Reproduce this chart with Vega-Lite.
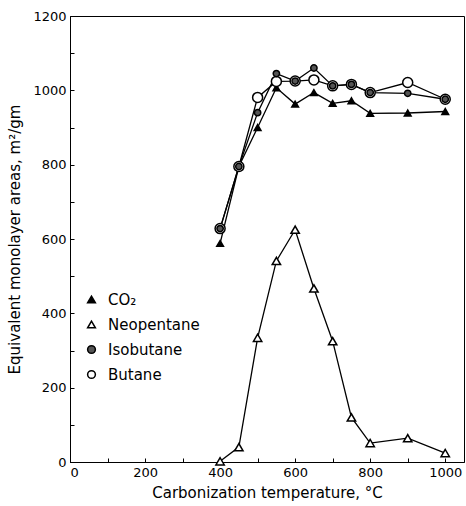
{
  "$schema": "https://vega.github.io/schema/vega-lite/v6.json",
  "autosize": {"type": "none"},
  "padding": {"left": 70, "top": 16, "right": 2, "bottom": 44},
  "width": 394,
  "height": 446,
  "background": "white",
  "config": {
    "view": {"stroke": "black", "strokeWidth": 1},
    "font": "DejaVu Sans",
    "axis": {
      "grid": false,
      "domainColor": "black",
      "tickColor": "black",
      "labelColor": "black",
      "titleColor": "black",
      "labelFont": "DejaVu Sans",
      "titleFont": "DejaVu Sans",
      "labelFontSize": 13,
      "titleFontSize": 15,
      "titleFontWeight": "normal",
      "tickSize": -4,
      "labelPadding": 8
    },
    "legend": {"labelFont": "DejaVu Sans", "labelFontSize": 15, "labelColor": "black"}
  },
  "data": {
    "values": [
      {"series": "CO₂", "t": 400, "a": 588},
      {"series": "CO₂", "t": 450, "a": 795},
      {"series": "CO₂", "t": 500, "a": 900},
      {"series": "CO₂", "t": 550, "a": 1007},
      {"series": "CO₂", "t": 600, "a": 963},
      {"series": "CO₂", "t": 650, "a": 994},
      {"series": "CO₂", "t": 700, "a": 965},
      {"series": "CO₂", "t": 750, "a": 972},
      {"series": "CO₂", "t": 800, "a": 938},
      {"series": "CO₂", "t": 900, "a": 939},
      {"series": "CO₂", "t": 1000, "a": 943},
      {"series": "Neopentane", "t": 400, "a": 2},
      {"series": "Neopentane", "t": 450, "a": 40},
      {"series": "Neopentane", "t": 500, "a": 334},
      {"series": "Neopentane", "t": 550, "a": 541},
      {"series": "Neopentane", "t": 600, "a": 625},
      {"series": "Neopentane", "t": 650, "a": 467},
      {"series": "Neopentane", "t": 700, "a": 325},
      {"series": "Neopentane", "t": 750, "a": 120},
      {"series": "Neopentane", "t": 800, "a": 51},
      {"series": "Neopentane", "t": 900, "a": 64},
      {"series": "Neopentane", "t": 1000, "a": 24},
      {"series": "Butane", "t": 400, "a": 628},
      {"series": "Butane", "t": 450, "a": 795},
      {"series": "Butane", "t": 500, "a": 981},
      {"series": "Butane", "t": 550, "a": 1024},
      {"series": "Butane", "t": 600, "a": 1025},
      {"series": "Butane", "t": 650, "a": 1028},
      {"series": "Butane", "t": 700, "a": 1012},
      {"series": "Butane", "t": 750, "a": 1016},
      {"series": "Butane", "t": 800, "a": 994},
      {"series": "Butane", "t": 900, "a": 1021},
      {"series": "Butane", "t": 1000, "a": 976},
      {"series": "Isobutane", "t": 400, "a": 628},
      {"series": "Isobutane", "t": 450, "a": 795},
      {"series": "Isobutane", "t": 500, "a": 940},
      {"series": "Isobutane", "t": 550, "a": 1045},
      {"series": "Isobutane", "t": 600, "a": 1025},
      {"series": "Isobutane", "t": 650, "a": 1060},
      {"series": "Isobutane", "t": 700, "a": 1012},
      {"series": "Isobutane", "t": 750, "a": 1016},
      {"series": "Isobutane", "t": 800, "a": 994},
      {"series": "Isobutane", "t": 900, "a": 992},
      {"series": "Isobutane", "t": 1000, "a": 976}
    ]
  },
  "encoding": {
    "x": {
      "field": "t", "type": "quantitative",
      "scale": {"domain": [0, 1050], "nice": false, "zero": false},
      "axis": {
        "title": "Carbonization temperature, °C",
        "values": [0, 100, 200, 300, 400, 500, 600, 700, 800, 900, 1000],
        "labelExpr": "datum.value % 200 == 0 ? datum.label : ''",
        "format": "d",
        "titlePadding": 6
      }
    },
    "y": {
      "field": "a", "type": "quantitative",
      "scale": {"domain": [0, 1200], "nice": false},
      "axis": {
        "title": "Equivalent monolayer areas, m²/gm",
        "values": [0, 100, 200, 300, 400, 500, 600, 700, 800, 900, 1000, 1100, 1200],
        "labelExpr": "datum.value % 200 == 0 ? datum.label : ''",
        "format": "d",
        "titlePadding": 10
      }
    }
  },
  "layer": [
    {
      "mark": {"type": "line", "color": "black", "strokeWidth": 1.3},
      "encoding": {"detail": {"field": "series"}}
    },
    {
      "mark": {"type": "point", "filled": false, "strokeWidth": 1.5, "opacity": 1},
      "encoding": {
        "shape": {
          "field": "series", "type": "nominal",
          "scale": {"domain": ["CO₂", "Neopentane", "Isobutane", "Butane"], "range": ["triangle-up", "triangle-up", "circle", "circle"]},
          "legend": {"title": null, "orient": "none", "legendX": 14, "legendY": 276, "rowPadding": 9, "labelOffset": 9, "symbolSize": 60}
        },
        "fill": {
          "field": "series", "type": "nominal",
          "scale": {"domain": ["CO₂", "Neopentane", "Isobutane", "Butane"], "range": ["black", "white", "#555555", "white"]},
          "legend": {"title": null, "orient": "none", "legendX": 14, "legendY": 276, "rowPadding": 9, "labelOffset": 9, "symbolSize": 60}
        },
        "stroke": {
          "field": "series", "type": "nominal",
          "scale": {"domain": ["CO₂", "Neopentane", "Isobutane", "Butane"], "range": ["black", "black", "black", "black"]},
          "legend": {"title": null, "orient": "none", "legendX": 14, "legendY": 276, "rowPadding": 9, "labelOffset": 9, "symbolSize": 60}
        },
        "size": {
          "condition": [
            {"test": "datum.series == 'Isobutane'", "value": 40},
            {"test": "datum.series == 'Butane'", "value": 100},
            {"test": "datum.series == 'CO₂'", "value": 45}
          ],
          "value": 70
        }
      }
    }
  ]
}
